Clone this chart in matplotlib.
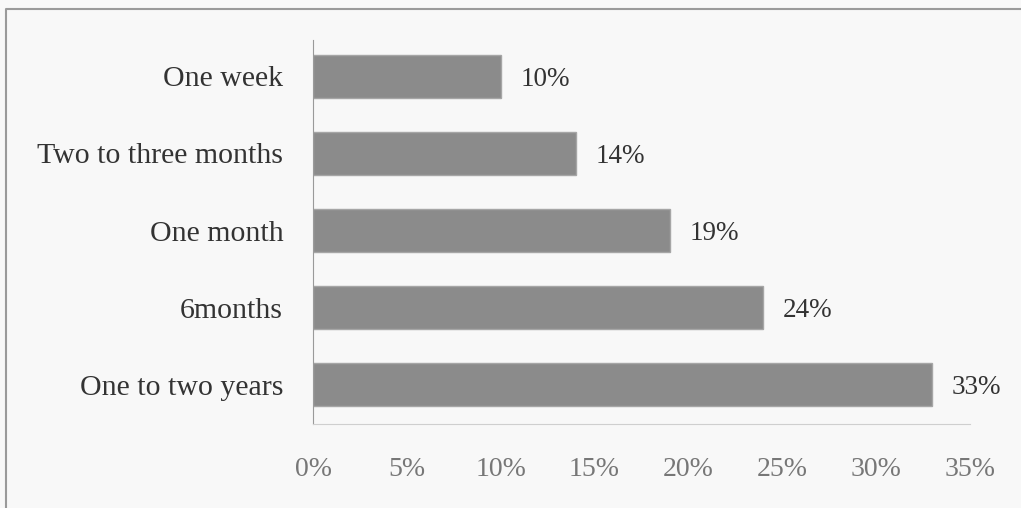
import matplotlib.pyplot as plt
from matplotlib.lines import Line2D

categories = ['One to two years', '6months', 'One month', 'Two to three months', 'One week']
values = [33, 24, 19, 14, 10]
x_ticks = [0, 5, 10, 15, 20, 25, 30, 35]
x_tick_labels = ['0%', '5%', '10%', '15%', '20%', '25%', '30%', '35%']

plt.rcParams['font.family'] = ['Liberation Serif', 'DejaVu Serif']

fig = plt.figure(figsize=(10.21, 5.08), dpi=100)
fig.patch.set_facecolor('#f8f8f8')
ax = fig.add_axes([0.3066, 0.1654, 0.6434, 0.7556])
ax.set_facecolor('none')

ypos = list(range(len(categories)))
ax.barh(ypos, values, height=0.56, color='#8b8b8b', edgecolor='#a6a6a6', linewidth=1)

for y, v in zip(ypos, values):
    ax.text(v + 1.05, y, f'{v}%', va='center_baseline', ha='left', fontsize=19.5, color='#333333')

ax.set_xlim(0, 35)
ax.set_ylim(-0.51, 4.47)
ax.set_yticks(ypos)
ax.set_yticklabels(categories, fontsize=21.5, color='#333333')
ax.set_xticks(x_ticks)
ax.set_xticklabels(x_tick_labels, fontsize=20, color='#777777')
ax.tick_params(axis='y', length=0, pad=21.5)
ax.tick_params(axis='x', length=0, pad=24)

for side in ['top', 'right']:
    ax.spines[side].set_visible(False)
ax.spines['left'].set_color('#9a9a9a')
ax.spines['bottom'].set_color('#cfcfcf')

# frame of the scanned figure: only top and left edges are visible
fig.add_artist(Line2D([6 / 1021, 6 / 1021, 1.0], [0.0, 1 - 9 / 508, 1 - 9 / 508],
                      transform=fig.transFigure, color='#9a9a9a', linewidth=1.5))

fig.savefig('out.png', dpi=100, facecolor=fig.get_facecolor())
